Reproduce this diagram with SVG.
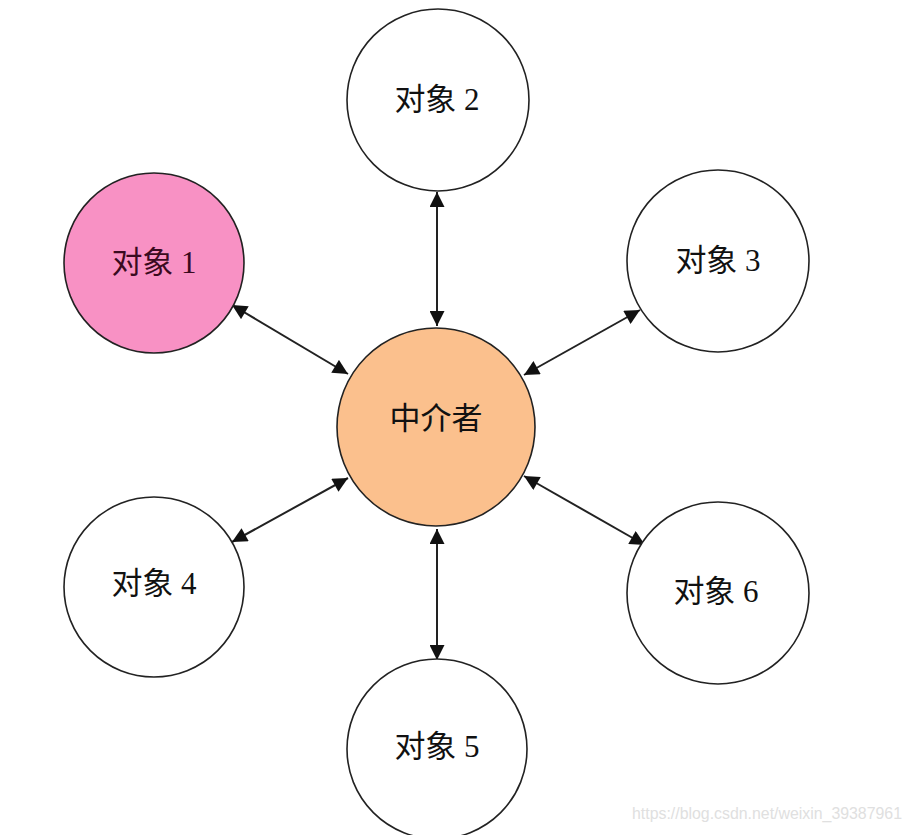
<svg xmlns="http://www.w3.org/2000/svg" width="910" height="835" viewBox="0 0 910 835">
<defs>
<marker id="ah" viewBox="0 0 10 10" refX="10" refY="5" markerWidth="17" markerHeight="15" markerUnits="userSpaceOnUse" orient="auto-start-reverse">
<path d="M0,0 L10,5 L0,10 Z" fill="#111"/>
</marker>
<style>
.n{stroke:#222;stroke-width:1.6}
.w{fill:#fff}
.t{font-family:"Liberation Serif","Noto Sans CJK SC",serif;font-size:31px;fill:#111;text-anchor:middle;dominant-baseline:central}
.c{stroke:#222;stroke-width:2;fill:none;marker-start:url(#ah);marker-end:url(#ah)}
</style>
</defs>
<rect width="910" height="835" fill="#fff"/>
<g id="connectors">
<line class="c" x1="437" y1="192" x2="437" y2="326"/>
<line class="c" x1="232" y1="305" x2="348" y2="374"/>
<line class="c" x1="640" y1="310" x2="524" y2="375"/>
<line class="c" x1="232" y1="542" x2="348" y2="478"/>
<line class="c" x1="645" y1="545" x2="524" y2="476"/>
<line class="c" x1="437" y1="529" x2="437" y2="660"/>
</g>
<g id="mediator">
<circle class="n" cx="436" cy="427" r="99" fill="#FBC08D"/>
<text class="t" x="436" y="418" fill="#2a1000">中介者</text>
</g>
<g id="obj1">
<circle class="n" cx="154" cy="263" r="90" fill="#F891C4"/>
<text class="t" x="154" y="262" style="fill:#3a0a20">对象 1</text>
</g>
<g id="obj2">
<circle class="n w" cx="438" cy="100" r="91"/>
<text class="t" x="437" y="99">对象 2</text>
</g>
<g id="obj3">
<circle class="n w" cx="718" cy="261" r="91"/>
<text class="t" x="718" y="260">对象 3</text>
</g>
<g id="obj4">
<circle class="n w" cx="154" cy="587" r="90"/>
<text class="t" x="154" y="583">对象 4</text>
</g>
<g id="obj5">
<circle class="n w" cx="437" cy="749" r="90"/>
<text class="t" x="437" y="746">对象 5</text>
</g>
<g id="obj6">
<circle class="n w" cx="718" cy="593" r="91"/>
<text class="t" x="716" y="591">对象 6</text>
</g>
<text x="632" y="819" font-family="Liberation Sans, sans-serif" font-size="16" fill="#e0e0e0" textLength="270" lengthAdjust="spacingAndGlyphs">https://blog.csdn.net/weixin_39387961</text>
</svg>
